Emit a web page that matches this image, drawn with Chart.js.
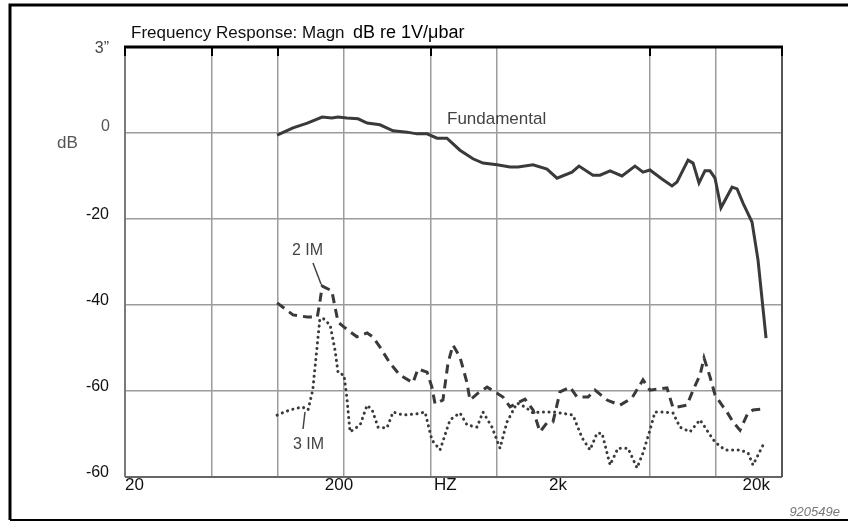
<!DOCTYPE html>
<html>
<head>
<meta charset="utf-8">
<title>Frequency Response</title>
<script src="https://cdn.jsdelivr.net/npm/chart.js@4.4.0/dist/chart.umd.min.js"></script>
<style>
  html, body { margin: 0; padding: 0; background: #fff; }
  #wrap { width: 848px; height: 522px; }
</style>
</head>
<body>
<div id="wrap"><canvas id="resp" width="848" height="522"></canvas></div>
<script>
// fundamental response, Hz / dB
const fundFreq = [99, 117, 136, 159, 176, 188, 206, 232, 255, 292, 335, 388, 431, 479, 532, 590, 677, 776, 862, 1000,
  1146, 1247, 1459, 1690, 1878, 2198, 2366, 2741, 2952, 3280, 3718, 4264, 4638, 4990, 5662, 6292, 6632, 7448, 7850,
  8356, 8897, 9380, 9890, 10528, 11830, 12472, 13274, 14590, 15540, 16912];
const fundDb = [-0.5, 1.2, 2.3, 3.7, 3.5, 3.7, 3.5, 3.3, 2.3, 1.9, 0.5, 0.2, -0.2, -0.2, -1.2, -1.2, -4.0, -6.0, -7.0, -7.4,
  -7.9, -7.9, -7.4, -8.4, -10.5, -9.1, -7.7, -9.8, -9.8, -8.8, -10.0, -7.7, -9.1, -8.6, -10.7, -12.3, -11.4, -6.3, -7.0,
  -11.6, -8.8, -8.8, -10.5, -17.4, -12.6, -13.0, -16.3, -20.7, -29.5, -47.7];

// second order intermodulation
const im2Freq = [99, 117, 136, 151, 155, 159, 176, 182, 188, 202, 229, 255, 271, 292, 324, 360, 413, 435, 479, 504, 521,
  566, 597, 629, 677, 729, 752, 818, 900, 1000, 1064, 1146, 1233, 1341, 1459, 1570, 1690, 1800, 1938, 2152, 2318, 2602,
  2800, 3176, 3642, 4132, 4638, 4990, 5970, 6358, 7366, 7850, 8448, 8808, 9380, 9890, 10642, 11220, 11948, 12860,
  13988, 14746, 16378];
const im2Db = [-39.5, -42.3, -42.8, -42.8, -39.5, -35.6, -36.7, -40.5, -44.0, -45.3, -47.4, -46.5, -47.4, -49.8, -53.5,
  -56.3, -58.1, -54.9, -55.6, -59.1, -63.0, -62.1, -53.5, -49.3, -52.1, -58.1, -62.1, -60.5, -59.1, -60.5, -61.4, -63.7,
  -62.8, -61.9, -64.4, -69.5, -67.4, -67.2, -60.2, -59.1, -61.4, -61.4, -59.8, -62.1, -63.3, -61.6, -57.4, -59.8, -59.3,
  -63.9, -63.3, -59.8, -56.3, -52.3, -56.7, -60.9, -63.3, -64.9, -67.2, -69.1, -65.1, -64.4, -64.2];

// third order intermodulation
const im3Freq = [99, 113, 129, 137, 144, 155, 160, 173, 182, 188, 200, 206, 213, 237, 255, 269, 286, 314, 335, 372, 431,
  469, 504, 549, 610, 677, 729, 810, 862, 948, 1031, 1110, 1233, 1341, 1459, 1570, 1838, 2222, 2444, 2657, 2860, 3014,
  3280, 3566, 3962, 4356, 4638, 4990, 5262, 5724, 6358, 6842, 7602, 8448, 9186, 9890, 10986, 12860, 13988, 14746, 16378];
const im3Db = [-65.6, -64.4, -63.7, -64.4, -59.8, -43.5, -43.0, -44.7, -50.5, -55.8, -56.3, -61.4, -69.5, -67.9, -63.3,
  -64.4, -68.4, -68.6, -64.9, -65.6, -65.3, -64.9, -71.4, -73.7, -66.7, -65.1, -67.9, -68.4, -64.9, -68.4, -73.3, -67.2,
  -62.8, -63.7, -65.1, -64.9, -64.9, -65.6, -70.9, -73.7, -69.8, -69.8, -77.2, -73.3, -73.3, -77.9, -74.4, -69.1, -64.9,
  -64.9, -65.1, -68.4, -69.5, -66.7, -69.5, -71.9, -73.7, -73.7, -74.4, -77.2, -72.6];

// axes
const xGridValues = [20, 50, 100, 200, 500, 1000, 5000, 10000, 20000];
const xLabelValues = [20, 200, 612, 2000, 20000];
const xLabelText = ['20', '200', 'HZ', '2k', '20k'];
const yGridValues = [20, 0, -20, -40, -60, -80];
const yLabelText = ['3\u201D', '0', '-20', '-40', '-60', '-60'];

const pts = (xs, ys) => xs.map((x, i) => ({ x: x, y: ys[i] }));
const INK = '#3a3a3a';
const SANS = '"Liberation Sans", Arial, sans-serif';

const paper = {
  id: 'paper',
  beforeDraw(chart) {
    const c = chart.ctx;
    c.save();
    c.fillStyle = '#fff';
    c.fillRect(0, 0, chart.width, chart.height);
    c.restore();
  },
  afterDraw(chart) {
    const c = chart.ctx;
    const a = chart.chartArea;
    const xs = chart.scales.x, ys = chart.scales.y;
    c.save();

    // outer frame
    c.strokeStyle = '#000';
    c.lineWidth = 3;
    c.beginPath();
    c.moveTo(848, 5); c.lineTo(10, 5); c.lineTo(10, 520);
    c.stroke();
    c.lineWidth = 2;
    c.beginPath();
    c.moveTo(10, 520); c.lineTo(848, 520);
    c.stroke();

    // plot borders
    c.lineWidth = 2;
    c.strokeStyle = '#7a7a7a';
    c.beginPath(); c.moveTo(a.left, a.top); c.lineTo(a.left, a.bottom); c.stroke();
    c.strokeStyle = '#666';
    c.beginPath(); c.moveTo(a.left, a.bottom); c.lineTo(a.right, a.bottom); c.stroke();
    c.strokeStyle = '#555';
    c.beginPath(); c.moveTo(a.right, a.top); c.lineTo(a.right, a.bottom); c.stroke();
    c.strokeStyle = '#000';
    c.lineWidth = 3;
    c.beginPath(); c.moveTo(a.left - 1, a.top); c.lineTo(a.right + 1, a.top); c.stroke();
    c.lineWidth = 2;
    [20, 50, 100, 500, 5000, 20000].forEach(v => {
      const px = Math.round(xs.getPixelForValue(v));
      c.beginPath(); c.moveTo(px, a.top); c.lineTo(px, a.top + 9); c.stroke();
    });

    // title
    c.fillStyle = '#111';
    c.textBaseline = 'middle';
    c.textAlign = 'left';
    c.font = '17px ' + SANS;
    c.fillText('Frequency Response: Magn', 131, 33);
    c.fillStyle = '#000';
    c.font = '18px ' + SANS;
    c.fillText('dB re 1V/\u03BCbar', 353, 33);

    // y labels
    yGridValues.forEach((v, i) => {
      const py = ys.getPixelForValue(v);
      c.textAlign = 'right';
      if (v === 0) {
        c.fillStyle = '#555';
        c.font = '16px ' + SANS;
        c.fillText(yLabelText[i], 110, py - 6);
      } else if (v === 20) {
        c.fillStyle = '#444';
        c.font = '16px ' + SANS;
        c.fillText(yLabelText[i], 109, py + 2);
      } else {
        c.fillStyle = '#111';
        c.font = '16px ' + SANS;
        c.fillText(yLabelText[i], 109, py - 4);
      }
    });
    c.fillStyle = '#555';
    c.font = '17px ' + SANS;
    c.textAlign = 'left';
    c.fillText('dB', 57, ys.getPixelForValue(0) + 10);

    // x labels
    c.fillStyle = '#111';
    c.font = '17px ' + SANS;
    xLabelValues.forEach((v, i) => {
      const px = xs.getPixelForValue(v);
      if (i === 0) {
        c.textAlign = 'left';
        c.fillText(xLabelText[i], px, a.bottom + 8);
      } else if (i === xLabelValues.length - 1) {
        c.textAlign = 'right';
        c.fillText(xLabelText[i], px - 12, a.bottom + 8);
      } else {
        c.textAlign = 'center';
        c.fillText(xLabelText[i], px - 5, a.bottom + 8);
      }
    });

    // curve names
    c.fillStyle = '#444';
    c.font = '17px ' + SANS;
    c.textAlign = 'left';
    c.fillText('Fundamental', 447, 119);
    c.font = '16px ' + SANS;
    c.fillText('2 IM', 292, 251);
    c.fillText('3 IM', 293, 445);
    c.strokeStyle = '#444';
    c.lineWidth = 1.5;
    c.beginPath(); c.moveTo(313, 263); c.lineTo(321, 284); c.stroke();
    c.beginPath(); c.moveTo(305, 412); c.lineTo(303, 429); c.stroke();

    // figure number
    c.fillStyle = '#777';
    c.font = 'italic 13px ' + SANS;
    c.textAlign = 'right';
    c.fillText('920549e', 840, 512);

    c.restore();
  }
};

new Chart(document.getElementById('resp'), {
  type: 'line',
  data: {
    datasets: [
      {
        label: 'Fundamental',
        data: pts(fundFreq, fundDb),
        borderColor: INK,
        borderWidth: 3,
        pointRadius: 0,
        tension: 0
      },
      {
        label: '2 IM',
        data: pts(im2Freq, im2Db),
        borderColor: INK,
        borderWidth: 3,
        borderDash: [9, 6],
        pointRadius: 0,
        tension: 0
      },
      {
        label: '3 IM',
        data: pts(im3Freq, im3Db),
        borderColor: INK,
        borderWidth: 3,
        borderDash: [0.1, 5.5],
        borderCapStyle: 'round',
        pointRadius: 0,
        tension: 0
      }
    ]
  },
  options: {
    responsive: false,
    animation: false,
    devicePixelRatio: 1,
    layout: { padding: { left: 125, right: 66, top: 47, bottom: 45 } },
    plugins: { legend: { display: false }, tooltip: { enabled: false } },
    scales: {
      x: {
        type: 'logarithmic',
        min: 20,
        max: 20000,
        afterBuildTicks: s => { s.ticks = xGridValues.map(v => ({ value: v })); },
        ticks: { display: false },
        grid: { color: '#9c9c9c', lineWidth: 1.5, drawTicks: false },
        border: { display: false }
      },
      y: {
        min: -80,
        max: 20,
        afterBuildTicks: s => { s.ticks = yGridValues.map(v => ({ value: v })); },
        ticks: { display: false },
        grid: { color: '#9c9c9c', lineWidth: 1.5, drawTicks: false },
        border: { display: false }
      }
    }
  },
  plugins: [paper]
});
</script>
</body>
</html>
